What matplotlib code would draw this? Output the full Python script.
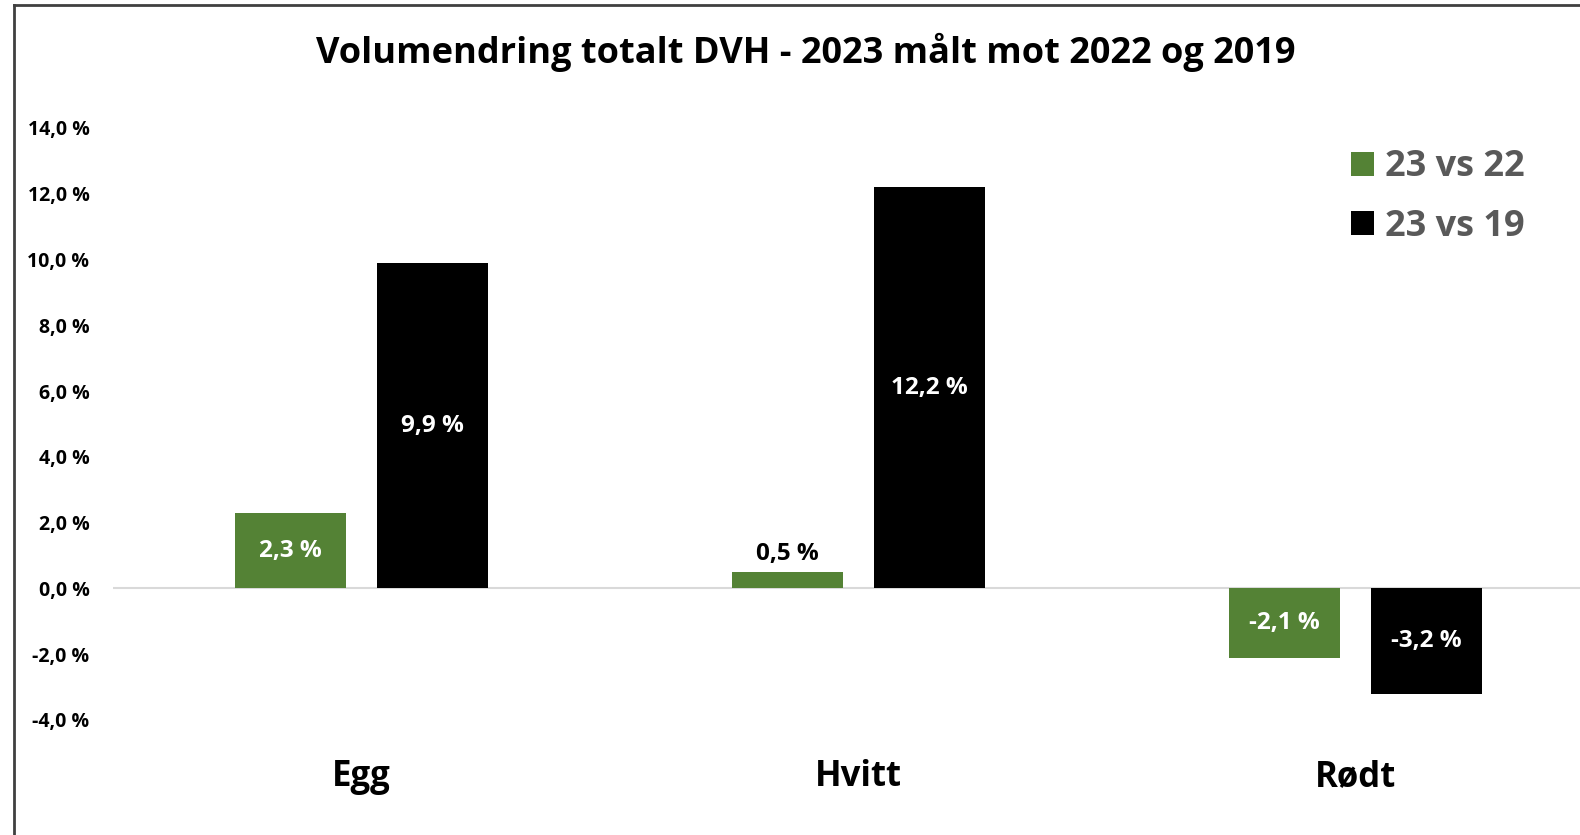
import numpy as np
import matplotlib.pyplot as plt
from matplotlib.lines import Line2D

# data
categories = ['Egg', 'Hvitt', 'Rødt']
series_names = ['23 vs 22', '23 vs 19']
vs22 = [2.3, 0.5, -2.1]
vs19 = [9.9, 12.2, -3.2]
yticks = [-4, -2, 0, 2, 4, 6, 8, 10, 12, 14]

colors = ['#548235', '#000000']
plt.rcParams['font.family'] = ['Open Sans', 'DejaVu Sans']
plt.rcParams['font.weight'] = 'bold'


def pct(v, decimals=1):
    return f'{v:.{decimals}f} %'.replace('.', ',')


fig = plt.figure(figsize=(15.8, 8.35), dpi=100)
ax = fig.add_axes([113 / 1580, 115 / 835, 3 * 497 / 1580, 592 / 835])

x = np.arange(len(categories))
offset = 0.143
width = 0.222

bars = []
for i, (vals, c) in enumerate(zip([vs22, vs19], colors)):
    b = ax.bar(x + (i * 2 - 1) * offset, vals, width, color=c,
               label=series_names[i], zorder=3)
    bars.append(b)

# data labels: centred inside, small bars get the label above in black
for vals, b in zip([vs22, vs19], bars):
    for v, rect in zip(vals, b):
        cx = rect.get_x() + rect.get_width() / 2
        if abs(v) < 1:
            ax.text(cx, v + 0.55, pct(v), ha='center', va='center',
                    color='black', fontsize=17.5, fontweight='bold')
        else:
            ax.text(cx, v / 2, pct(v), ha='center', va='center',
                    color='white', fontsize=17.5, fontweight='bold')

ax.axhline(0, color='#d9d9d9', lw=1.5, zorder=2)
ax.set_xlim(-0.5, 2.5)
ax.set_ylim(-4, 14)
ax.set_yticks(yticks)
ax.set_yticklabels([pct(v) for v in yticks], fontsize=14, fontweight='bold')
ax.set_xticks(x)
ax.set_xticklabels(categories, fontsize=25, fontweight='bold')
ax.tick_params(axis='y', length=0, pad=17)
ax.tick_params(axis='x', length=0, pad=28)
for s in ax.spines.values():
    s.set_visible(False)

fig.text(806 / 1580, 1 - 52 / 835, 'Volumendring totalt DVH - 2023 målt mot 2022 og 2019',
         ha='center', va='center', fontsize=26, fontweight='bold')

leg = fig.legend(handles=bars, labels=series_names, loc='upper left',
                 bbox_to_anchor=(1318 / 1580, 1 - 117 / 835), frameon=False,
                 fontsize=26, handlelength=0.65, handleheight=0.65,
                 handletextpad=0.3, labelspacing=0.65)
for t in leg.get_texts():
    t.set_color('#595959')

# outer frame (only left and top edges visible)
fig.add_artist(Line2D([14 / 1580, 14 / 1580], [0, 1 - 5 / 835], color='#404040', lw=2,
                      transform=fig.transFigure))
fig.add_artist(Line2D([14 / 1580, 1], [1 - 5 / 835, 1 - 5 / 835], color='#404040', lw=2,
                      transform=fig.transFigure))

fig.savefig('out.png', dpi=100)
